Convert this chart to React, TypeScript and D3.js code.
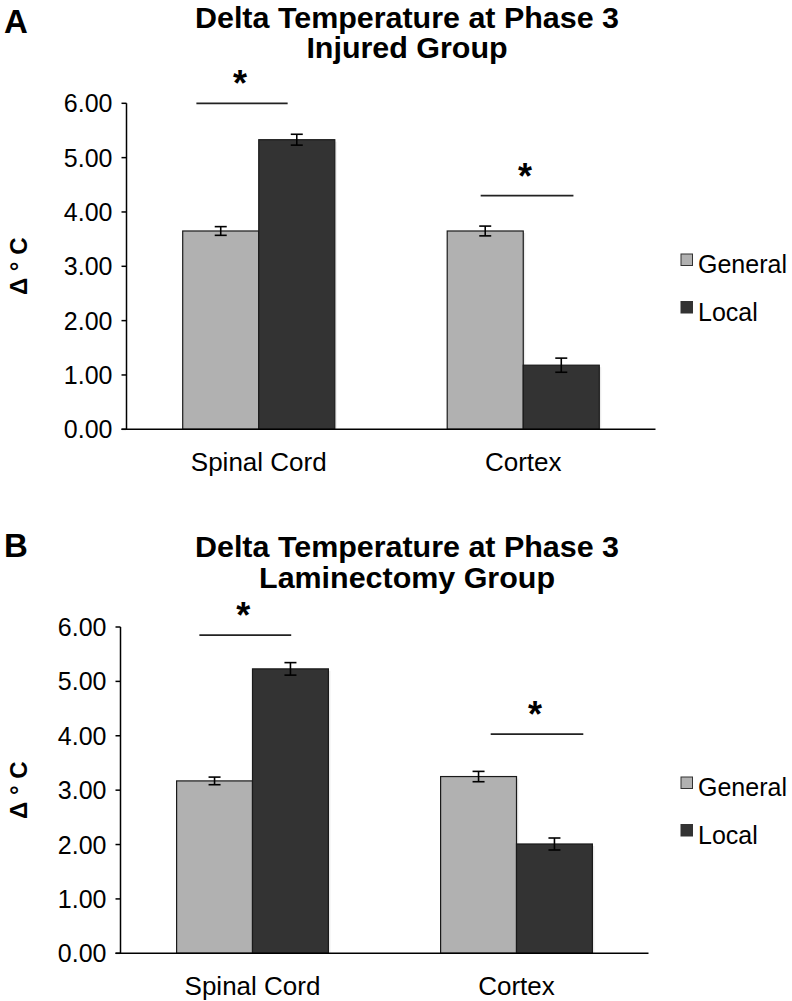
import React from "react";
import * as d3 from "d3";

const categories = ["Spinal Cord", "Cortex"];
const seriesNames = ["General", "Local"];
const yTicks = [0, 1, 2, 3, 4, 5, 6];

const injuredGeneral = [3.65, 3.65];
const injuredGeneralErr = [0.08, 0.09];
const injuredLocal = [5.33, 1.18];
const injuredLocalErr = [0.1, 0.13];

const laminGeneral = [3.17, 3.25];
const laminGeneralErr = [0.07, 0.095];
const laminLocal = [5.23, 2.01];
const laminLocalErr = [0.115, 0.11];

// significance bars: category, y value, start/end as fraction of group width
const injuredSigCat = ["Spinal Cord", "Cortex"];
const injuredSigY = [6.0, 4.3];
const injuredSigFrom = [0.09, 0.22];
const injuredSigTo = [0.69, 0.83];

const laminSigCat = ["Spinal Cord", "Cortex"];
const laminSigY = [5.85, 4.03];
const laminSigFrom = [0.15, 0.33];
const laminSigTo = [0.755, 0.94];

const colors = ["#b1b1b1", "#333333"];

type PanelProps = {
  label: string;
  title2: string;
  x0: number;
  x1: number;
  yZero: number;
  ySix: number;
  general: number[];
  generalErr: number[];
  local: number[];
  localErr: number[];
  sigCat: string[];
  sigY: number[];
  sigFrom: number[];
  sigTo: number[];
  titleY1: number;
  titleY2: number;
  labelY: number;
  legendY: number;
};

function Panel(p: PanelProps) {
  const x = d3
    .scaleBand<string>()
    .domain(categories)
    .range([p.x0, p.x1])
    .paddingInner(0.425)
    .paddingOuter(0.2125);
  const sub = d3.scaleBand<string>().domain(seriesNames).range([0, x.bandwidth()]);
  const y = d3.scaleLinear().domain([0, 6]).range([p.yZero, p.ySix]);
  const fmt = d3.format(".2f");
  const values = [p.general, p.local];
  const errs = [p.generalErr, p.localErr];
  const font = "'Liberation Sans', Arial, Helvetica, sans-serif";
  const titleCx = 407;
  const yMid = (p.yZero + p.ySix) / 2;
  return (
    <g>
      <text x={4} y={p.labelY} fontFamily={font} fontWeight="bold" fontSize={33} fill="#000">
        {p.label}
      </text>
      <g transform={`translate(${titleCx},0) scale(1.05,1)`}>
        <text x={0} y={p.titleY1} textAnchor="middle" fontFamily={font} fontWeight="bold" fontSize={29} fill="#000">
          Delta Temperature at Phase 3
        </text>
        <text x={0} y={p.titleY2} textAnchor="middle" fontFamily={font} fontWeight="bold" fontSize={29} fill="#000">
          {p.title2}
        </text>
      </g>
      {/* y axis label */}
      <text
        transform={`translate(27,${yMid}) rotate(-90)`}
        textAnchor="middle"
        fontFamily={font}
        fontWeight="bold"
        fontSize={24}
        fill="#000"
      >
        Δ ° C
      </text>
      {/* bars */}
      {categories.map((c, ci) =>
        seriesNames.map((s, si) => {
          const bx = (x(c) as number) + (sub(s) as number);
          const v = values[si][ci];
          const e = errs[si][ci];
          const cx = bx + sub.bandwidth() / 2;
          return (
            <g key={c + s}>
              <rect x={bx + 2} y={y(v) + 2} width={sub.bandwidth()} height={y(0) - y(v) - 2} fill="#000" opacity={0.08} />
              <rect
                x={bx}
                y={y(v)}
                width={sub.bandwidth()}
                height={y(0) - y(v)}
                fill={colors[si]}
                stroke="#1a1a1a"
                strokeWidth={1.2}
              />
              <line x1={cx} x2={cx} y1={y(v + e)} y2={y(v - e)} stroke="#000" strokeWidth={1.6} />
              <line x1={cx - 6} x2={cx + 6} y1={y(v + e)} y2={y(v + e)} stroke="#000" strokeWidth={1.6} />
              <line x1={cx - 6} x2={cx + 6} y1={y(v - e)} y2={y(v - e)} stroke="#000" strokeWidth={1.6} />
            </g>
          );
        })
      )}
      {/* axes */}
      <line x1={p.x0} x2={p.x0} y1={p.ySix} y2={p.yZero} stroke="#000" strokeWidth={1.5} />
      <line x1={p.x0 - 5} x2={p.x1} y1={p.yZero} y2={p.yZero} stroke="#000" strokeWidth={1.5} />
      {yTicks.map((t) => (
        <g key={t}>
          <line x1={p.x0 - 5} x2={p.x0} y1={y(t)} y2={y(t)} stroke="#000" strokeWidth={1.5} />
          <text
            x={p.x0 - 14}
            y={y(t)}
            dy="0.36em"
            textAnchor="end"
            fontFamily={font}
            fontSize={25}
            fill="#000"
          >
            {fmt(t)}
          </text>
        </g>
      ))}
      {categories.map((c) => (
        <text
          key={c}
          x={(x(c) as number) + x.bandwidth() / 2}
          y={p.yZero + 42}
          textAnchor="middle"
          fontFamily={font}
          fontSize={26}
          fill="#000"
        >
          {c}
        </text>
      ))}
      {/* significance */}
      {p.sigCat.map((c, i) => {
        const gx = x(c) as number;
        const xa = gx + p.sigFrom[i] * x.bandwidth();
        const xb = gx + p.sigTo[i] * x.bandwidth();
        const yy = y(p.sigY[i]);
        return (
          <g key={"sig" + i}>
            <line x1={xa} x2={xb} y1={yy} y2={yy} stroke="#222" strokeWidth={1.8} />
            <text x={(xa + xb) / 2 - 2} y={yy - 24 + 17} textAnchor="middle" fontFamily={font} fontWeight="bold" fontSize={36} fill="#000">
              *
            </text>
          </g>
        );
      })}
      {/* legend */}
      {seriesNames.map((s, i) => (
        <g key={s}>
          <rect x={681} y={p.legendY + i * 47.5} width={11.5} height={11.5} fill={colors[i]} stroke="#333" strokeWidth={1} />
          <text x={698} y={p.legendY + i * 47.5 + 19} fontFamily={font} fontSize={25} fill="#000">
            {s}
          </text>
        </g>
      ))}
    </g>
  );
}

export default function App() {
  return (
    <svg width={792} height={1001} style={{ position: "absolute", left: 0, top: 0, background: "#fff" }}>
      <rect width={792} height={1001} fill="#fff" />
      <Panel
        label="A"
        title2="Injured Group"
        x0={126.5}
        x1={655.5}
        yZero={429.3}
        ySix={103.3}
        general={injuredGeneral}
        generalErr={injuredGeneralErr}
        local={injuredLocal}
        localErr={injuredLocalErr}
        sigCat={injuredSigCat}
        sigY={injuredSigY}
        sigFrom={injuredSigFrom}
        sigTo={injuredSigTo}
        titleY1={28}
        titleY2={58}
        labelY={33}
        legendY={254}
      />
      <Panel
        label="B"
        title2="Laminectomy Group"
        x0={120.5}
        x1={648.5}
        yZero={953.3}
        ySix={627}
        general={laminGeneral}
        generalErr={laminGeneralErr}
        local={laminLocal}
        localErr={laminLocalErr}
        sigCat={laminSigCat}
        sigY={laminSigY}
        sigFrom={laminSigFrom}
        sigTo={laminSigTo}
        titleY1={557}
        titleY2={588}
        labelY={557}
        legendY={777}
      />
    </svg>
  );
}
